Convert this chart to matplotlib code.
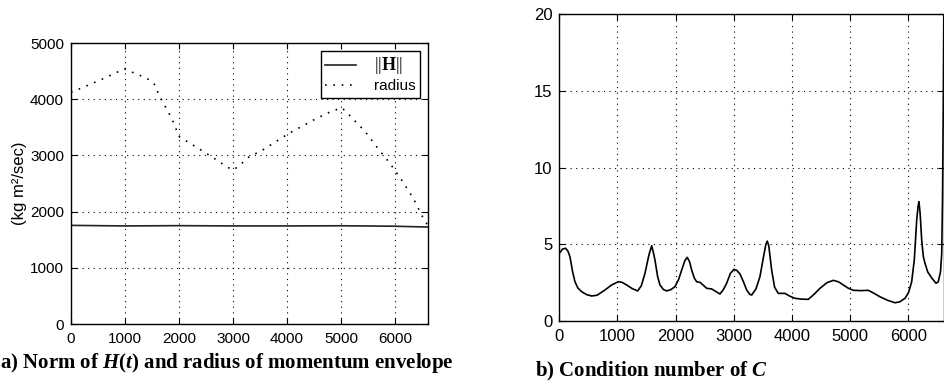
import matplotlib
matplotlib.use("Agg")
import matplotlib.pyplot as plt

plt.rcParams['font.family'] = ['Liberation Sans', 'DejaVu Sans']
plt.rcParams['mathtext.fontset'] = 'custom'
plt.rcParams['mathtext.rm'] = 'Liberation Serif'
plt.rcParams['mathtext.it'] = 'Liberation Serif:italic:bold'
plt.rcParams['mathtext.bf'] = 'Liberation Serif:bold'

# (a) norm of H(t) and radius of momentum envelope
norm_t = [0, 1000, 2000, 3000, 4000, 5000, 6000, 6611]
norm_h = [1755, 1745, 1750, 1745, 1745, 1748, 1740, 1725]

radius_t = [0, 568, 988, 1185, 1340, 1481, 1556, 1630, 1864, 2006, 2358, 2605,
            2883, 2994, 3080, 3315, 3500, 4037, 4549, 4784, 5013, 5105, 5444,
            5722, 5907, 6123, 6339, 6556, 6611]
radius = [4120, 4352, 4540, 4460, 4400, 4329, 4253, 4075, 3660, 3333, 3126, 2977,
          2799, 2740, 2788, 2989, 3066, 3393, 3660, 3767, 3849, 3767, 3427,
          3078, 2859, 2562, 2236, 1820, 1760]

# (b) condition number of C
cond_t = [0, 60, 110, 150, 184, 230, 270, 320, 385, 470, 557, 650, 785, 900, 1014,
          1080, 1158, 1250, 1347, 1410, 1473, 1540, 1588, 1615, 1644, 1690, 1730,
          1790, 1845, 1920, 1988, 2050, 2103, 2160, 2199, 2240, 2275, 2320, 2361,
          2418, 2470, 2533, 2618, 2680, 2761, 2820, 2876, 2940, 3001, 3050, 3105,
          3160, 3220, 3270, 3306, 3380, 3448, 3510, 3550, 3574, 3600, 3649, 3700,
          3763, 3878, 3960, 4050, 4150, 4278, 4380, 4479, 4600, 4708, 4800, 4880,
          4960, 5052, 5180, 5309, 5410, 5510, 5640, 5768, 5850, 5940, 6000, 6055,
          6100, 6141, 6165, 6180, 6200, 6227, 6255, 6284, 6330, 6400, 6473, 6510,
          6550, 6571, 6585, 6598, 6610]
cond = [4.41, 4.70, 4.74, 4.55, 4.19, 3.2, 2.56, 2.15, 1.91, 1.72, 1.63, 1.68, 2.02,
        2.35, 2.56, 2.52, 2.35, 2.12, 1.96, 2.3, 3.11, 4.3, 4.91, 4.5, 3.98, 2.9,
        2.35, 2.05, 1.96, 2.05, 2.24, 2.7, 3.32, 3.95, 4.15, 3.85, 3.32, 2.8, 2.56,
        2.52, 2.35, 2.13, 2.09, 1.95, 1.76, 2.05, 2.46, 3.1, 3.37, 3.3, 3.06, 2.6,
        2.02, 1.75, 1.69, 2.1, 2.89, 4.2, 5.0, 5.21, 4.9, 3.32, 2.2, 1.80, 1.80,
        1.62, 1.48, 1.43, 1.41, 1.75, 2.13, 2.5, 2.65, 2.55, 2.35, 2.15, 2.0, 1.98,
        2.0, 1.8, 1.58, 1.35, 1.19, 1.25, 1.48, 1.85, 2.56, 4.0, 6.58, 7.5, 7.78,
        7.0, 5.28, 4.2, 3.76, 3.2, 2.8, 2.46, 2.55, 3.2, 4.41, 8.0, 14.4, 22]

x_ticks = [0, 1000, 2000, 3000, 4000, 5000, 6000]


def matlab_style(ax, size):
    ax.grid(True, color='black', linestyle=(0, (1, 4)), linewidth=0.8)
    ax.tick_params(direction='in', top=True, right=True, length=4,
                   labelsize=size, width=0.8)
    ax.tick_params(axis='x', pad=6)
    ax.tick_params(axis='y', pad=5)
    for s in ax.spines.values():
        s.set_linewidth(1.0)
    ax.set_xticks(x_ticks)


fig = plt.figure(figsize=(9.45, 3.81), dpi=100)

ax1 = fig.add_axes([0.0751, 0.1496, 0.3778, 0.7375])
ax1.plot(norm_t, norm_h, color='#222222', linewidth=1.2, label=r'$||\mathbf{H}||$')
ax1.plot(radius_t, radius, color='black', linestyle=(0, (1, 4)), linewidth=1.2,
         label='radius')
ax1.set_xlim(0, 6611)
ax1.set_ylim(0, 5000)
ax1.set_yticks([0, 1000, 2000, 3000, 4000, 5000])
matlab_style(ax1, 11)
ax1.set_ylabel('(kg m²/sec)', fontsize=12, labelpad=2)
leg = ax1.legend(loc='upper right', fontsize=11, fancybox=False, framealpha=1,
                 edgecolor='black', handlelength=2.0, borderpad=0.3,
                 labelspacing=0.2, handletextpad=1.2, borderaxespad=0.5)
leg.get_frame().set_linewidth(1.0)
leg.get_texts()[0].set_fontsize(13)

ax2 = fig.add_axes([0.5918, 0.1575, 0.4072, 0.805])
ax2.plot(cond_t, cond, color='black', linewidth=1.2)
ax2.set_xlim(0, 6611)
ax2.set_ylim(0, 20)
ax2.set_yticks([0, 5, 10, 15, 20])
matlab_style(ax2, 12)

fig.text(0.0, 0.034, 'a) Norm of $H$($t$) and radius of momentum envelope',
         family='Liberation Serif', weight='bold', fontsize=15, ha='left')
fig.text(0.566, 0.013, 'b) Condition number of $C$',
         family='Liberation Serif', weight='bold', fontsize=15, ha='left')

fig.savefig('out.png', dpi=100)
